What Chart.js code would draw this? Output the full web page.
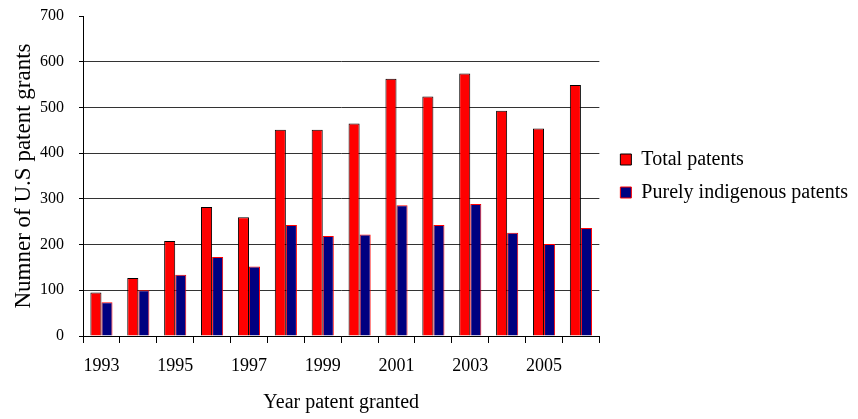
<!DOCTYPE html>
<html>
<head>
<meta charset="utf-8">
<script src="https://cdn.jsdelivr.net/npm/chart.js@4/dist/chart.umd.min.js"></script>
<style>
  html, body { margin: 0; padding: 0; background: #fff; }
  #wrap { width: 858px; height: 419px; position: relative; }
</style>
</head>
<body>
<div id="wrap"><canvas id="chart"></canvas></div>
<script>
// Years on the horizontal axis
const years = ['1993', '1994', '1995', '1996', '1997', '1998', '1999',
               '2000', '2001', '2002', '2003', '2004', '2005', '2006'];

// U.S. patent grants per year
const totalPatents = [95, 127, 208, 282, 260, 451, 451, 465, 563, 524, 574, 493, 454, 549];
const indigenousPatents = [74, 100, 134, 173, 152, 243, 219, 222, 286, 243, 289, 226, 201, 236];

// Value axis ticks
const yTicks = [0, 100, 200, 300, 400, 500, 600, 700];

const serif = "'Liberation Serif', 'Times New Roman', serif";
Chart.defaults.font.family = serif;
Chart.defaults.color = '#000';

new Chart(document.getElementById('chart'), {
  type: 'bar',
  data: {
    labels: years,
    datasets: [
      {
        label: 'Total patents',
        data: totalPatents,
        backgroundColor: '#FF0000',
        borderColor: '#000000',
        borderWidth: 1,
        borderSkipped: 'bottom',
        categoryPercentage: 0.6,
        barPercentage: 1.0
      },
      {
        label: 'Purely indigenous patents',
        data: indigenousPatents,
        backgroundColor: '#000080',
        borderColor: '#FF0000',
        borderWidth: 1,
        borderSkipped: 'bottom',
        categoryPercentage: 0.6,
        barPercentage: 1.0
      }
    ]
  },
  options: {
    responsive: true,
    maintainAspectRatio: false,
    devicePixelRatio: 1,
    animation: false,
    layout: { padding: { top: 16, right: 0, bottom: 0, left: 0 } },
    plugins: {
      tooltip: { enabled: false },
      legend: {
        position: 'right',
        align: 'center',
        fullSize: false,
        maxWidth: 300,
        labels: {
          boxWidth: 11,
          boxHeight: 11,
          padding: 13,
          color: '#000',
          font: { family: serif, size: 20 }
        }
      }
    },
    scales: {
      x: {
        type: 'category',
        offset: true,
        afterFit: function (scale) { scale.height = 83; },
        grid: {
          display: true,
          offset: true,
          drawOnChartArea: false,
          drawTicks: true,
          tickLength: 7,
          color: '#000',
          tickColor: '#000'
        },
        border: { display: true, color: '#000', width: 1 },
        ticks: {
          autoSkip: false,
          maxRotation: 0,
          minRotation: 0,
          padding: 12,
          color: '#000',
          font: { family: serif, size: 18 },
          callback: function (value, index) {
            return index % 2 === 0 ? this.getLabelForValue(value) : '';
          }
        },
        title: {
          display: true,
          text: 'Year patent granted',
          color: '#000',
          font: { family: serif, size: 20 },
          padding: { top: 14, bottom: 4 }
        }
      },
      y: {
        type: 'linear',
        position: 'left',
        min: yTicks[0],
        max: yTicks[yTicks.length - 1],
        afterBuildTicks: function (scale) {
          scale.ticks = yTicks.map(v => ({ value: v }));
        },
        afterFit: function (scale) {
          scale.width = 83;
          scale.paddingTop = 0;
          scale.paddingBottom = 0;
        },
        grid: {
          display: true,
          drawTicks: true,
          tickLength: 4,
          color: function (ctx) {
            return ctx.tick && ctx.tick.value === yTicks[yTicks.length - 1] ? 'rgba(0,0,0,0)' : '#333';
          },
          tickColor: '#000'
        },
        border: { display: true, color: '#000', width: 1 },
        ticks: {
          padding: 15,
          color: '#000',
          font: { family: serif, size: 16 }
        },
        title: {
          display: true,
          text: 'Numner of U.S patent grants',
          color: '#000',
          font: { family: serif, size: 23 },
          padding: { top: 10, bottom: 4 }
        }
      },
      // spacer between the plot and the legend
      gap: {
        type: 'linear',
        position: 'right',
        display: true,
        grid: { display: false, drawTicks: false },
        border: { display: false },
        ticks: { display: false },
        afterFit: function (scale) { scale.width = 8; }
      }
    }
  }
});
</script>
</body>
</html>
